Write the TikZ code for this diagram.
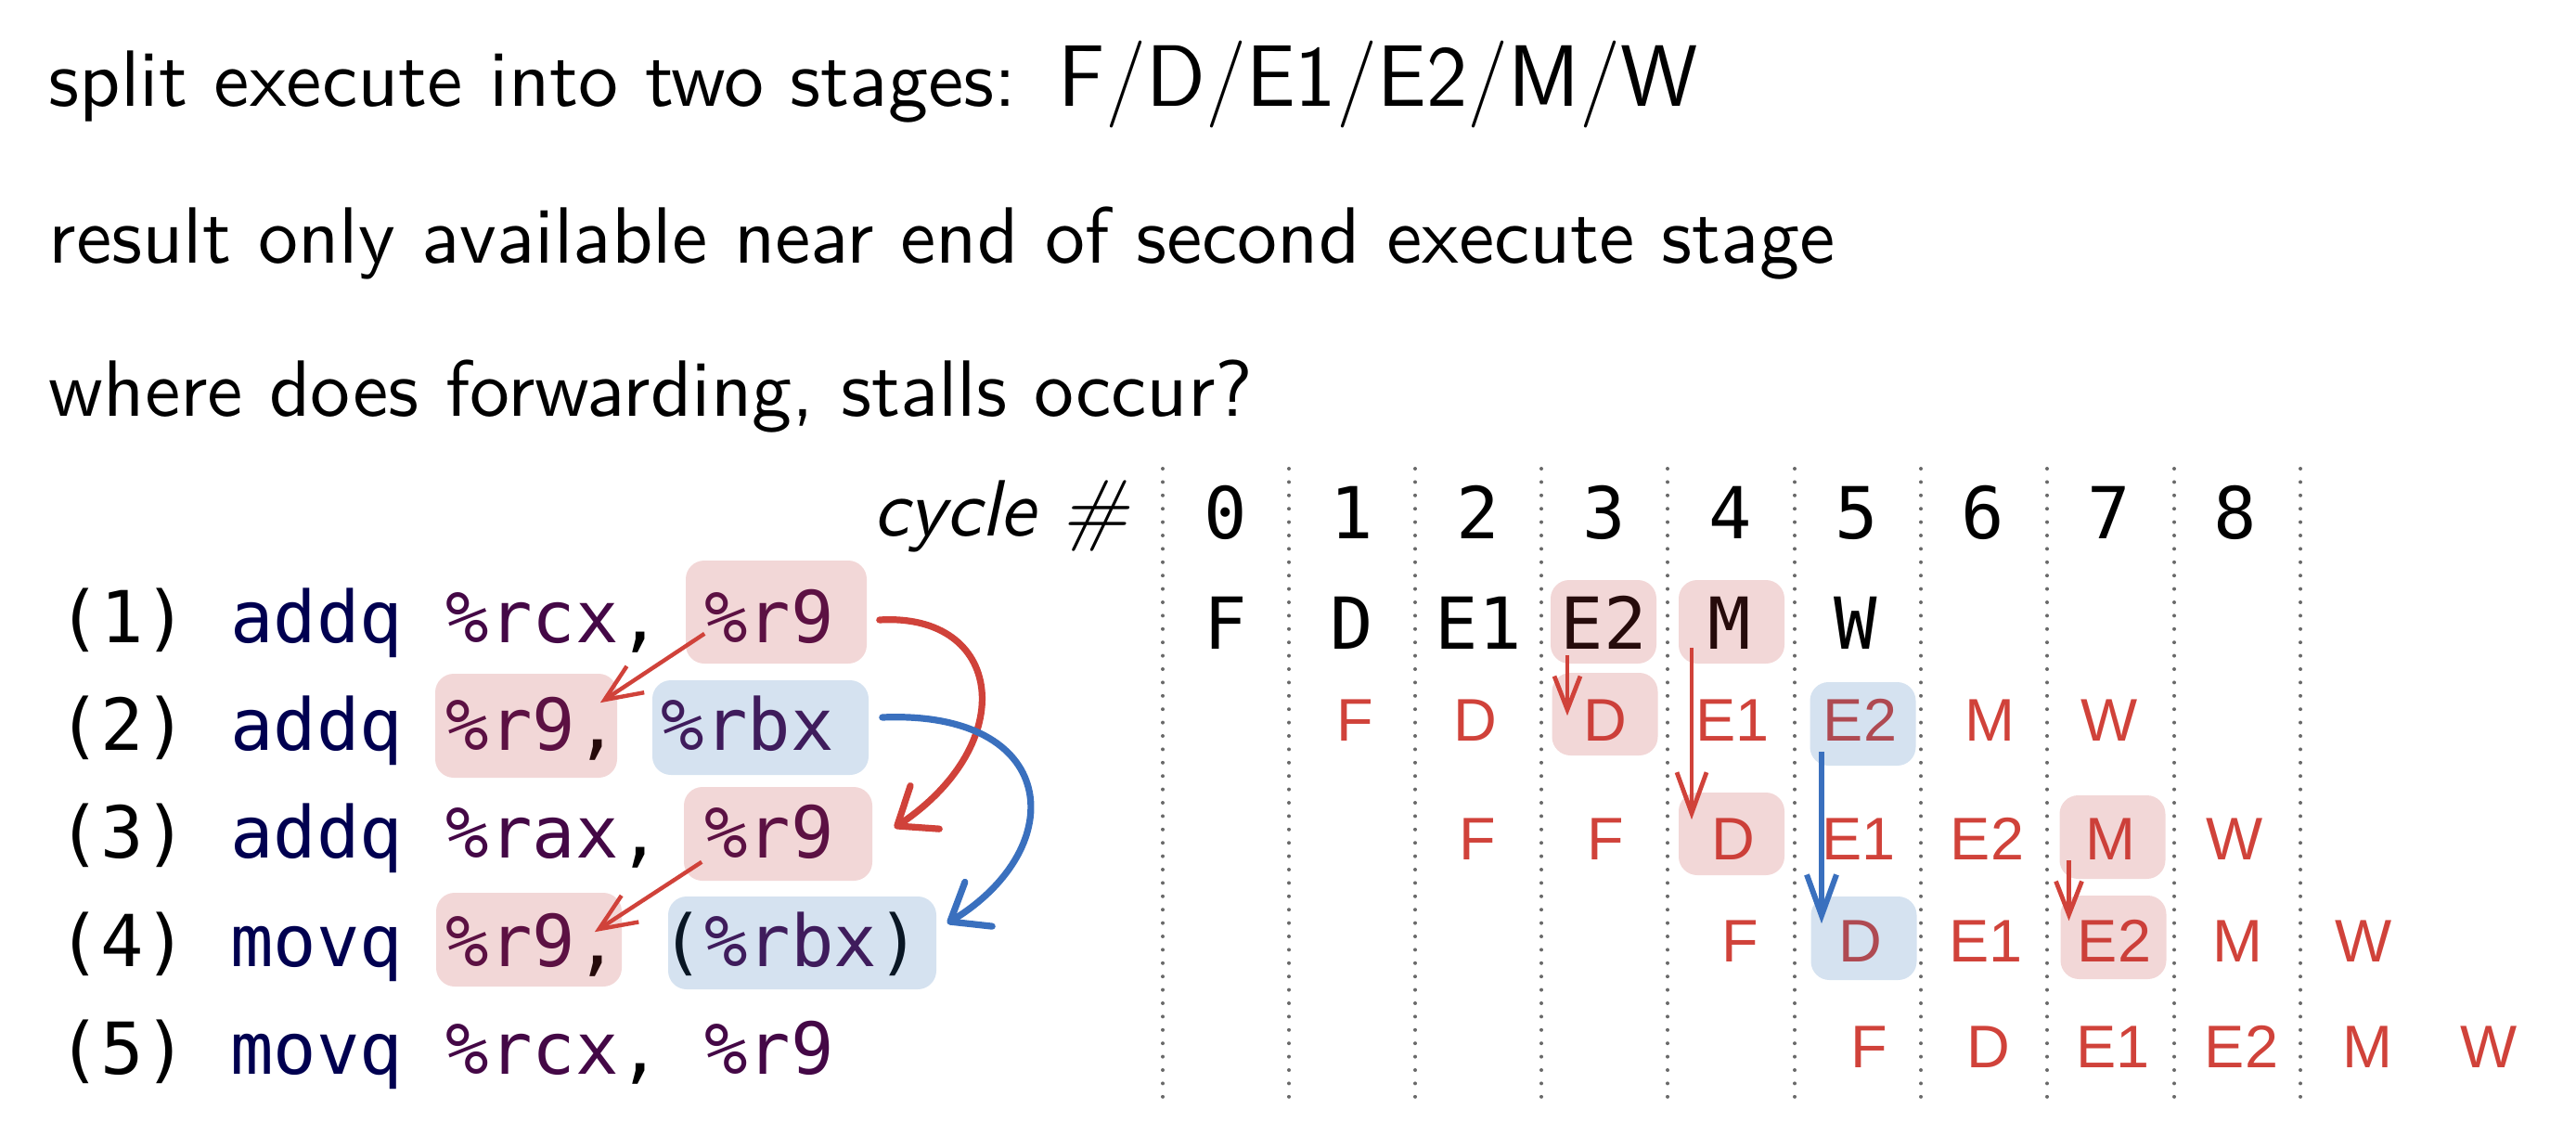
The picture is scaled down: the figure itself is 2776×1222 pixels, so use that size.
\documentclass[tikz,border=0pt]{standalone}
\usepackage{fontspec}
\usepackage{graphicx}
\usetikzlibrary{arrows.meta}

\newfontfamily\codefont{DejaVu Sans Mono}
\newfontfamily\stagefont{Liberation Sans}

\definecolor{stagered}{RGB}{208,66,58}
\definecolor{fwdblue}{RGB}{58,112,190}
\definecolor{hlred}{RGB}{190,55,55}
\definecolor{hlblue}{RGB}{45,110,180}
\definecolor{opcode}{RGB}{0,0,80}
\definecolor{regname}{RGB}{68,8,70}
\definecolor{gridgray}{RGB}{105,105,105}

% one monospace cell of blank space
\newcommand\sk{\hphantom{0}}
% slide text: Latin Modern Sans 10 scaled up
\newcommand\slidetext[1]{\scalebox{2.15}{\fontsize{10}{12}\selectfont\sffamily #1}}
\newcommand\reg[1]{\textcolor{regname}{#1}}
\newcommand\op[1]{\textcolor{opcode}{#1}}

\tikzset{
  line/.style={anchor=base west, inner sep=0pt},
  codeline/.style={anchor=base west, inner sep=0pt, font=\fontsize{19.3}{23}\codefont},
  monocell/.style={anchor=base, inner sep=0pt, font=\fontsize{19.3}{23}\codefont},
  stagecell/.style={anchor=base, inner sep=0pt, text=stagered, font=\fontsize{16.2}{19}\stagefont},
  hl/.style 2 args={rounded corners=5pt, inner sep=0pt, draw=none, fill opacity=0.2,
    minimum width=#1*0.25pt, minimum height=#2*0.25pt},
  hlr/.style 2 args={hl={#1}{#2}, fill=hlred},
  hlb/.style 2 args={hl={#1}{#2}, fill=hlblue},
  griddots/.style={gridgray, line width=1pt, line cap=round, dash pattern=on 0pt off 3.6pt},
  fwdcurve/.style={line width=1.8pt, line cap=round,
    -{Straight Barb[length=9pt, width=14pt, line cap=round, line join=round]}},
  fwdline/.style={stagered, line width=1.1pt,
    -{Straight Barb[length=10pt, width=8.5pt]}},
  stallarrow/.style={line width=1.2pt, -{Straight Barb[length=9pt, width=7pt]}},
  longarrow/.style={line width=1.2pt, -{Straight Barb[length=11pt, width=8pt]}},
}

\begin{document}
\begin{tikzpicture}[x=0.25pt, y=-0.25pt]
\path[use as bounding box] (0,0) rectangle (2776,1222);

% ---- headline text ----
\node[line] (t1) at (52,114) {\slidetext{split execute into two stages:}};
\node[line] (t1b) at (1140,114) {\fontsize{23.5}{28}\selectfont\sffamily F/D/E1/E2/M/W};
\node[line] (t2) at (52,283) {\slidetext{result only available near end of second execute stage}};
\node[line] (t3) at (52,448) {\slidetext{where does forwarding, stalls occur?}};

% ---- cycle grid ----
\node[anchor=base east, inner sep=0pt] (cyc) at (1217,577) {\slidetext{\itshape cycle \#}};
\foreach \x in {1253,1389,1525,1661,1797,1934,2070,2206,2343,2479}
  \draw[griddots] (\x,505) -- (\x,1183);
\foreach \i in {0,...,8}
  \node[monocell] (h\i) at ({1321+136*\i},580.6) {\i};

% ---- instruction listing ----
\node[codeline] (l1) at (61.5,692)    {(1)\sk\op{addq}\sk\reg{\%rcx},\sk\reg{\%r9}};
\node[codeline] (l2) at (61.5,808)    {(2)\sk\op{addq}\sk\reg{\%r9},\sk\reg{\%rbx}};
\node[codeline] (l3) at (61.5,924.5)  {(3)\sk\op{addq}\sk\reg{\%rax},\sk\reg{\%r9}};
\node[codeline] (l4) at (61.5,1041)   {(4)\sk\op{movq}\sk\reg{\%r9},\sk(\reg{\%rbx})};
\node[codeline] (l5) at (61.5,1157)   {(5)\sk\op{movq}\sk\reg{\%rcx},\sk\reg{\%r9}};

% ---- pipeline rows ----
\node[monocell] (a0) at (1321,699) {F};
\node[monocell] (a1) at (1457,699) {D};
\node[monocell] (a2) at (1593,699) {E1};
\node[monocell] (a3) at (1728,699) {E2};
\node[monocell] (a4) at (1864,699) {M};
\node[monocell] (a5) at (2000,699) {W};

\node[stagecell] (b1) at (1460,798) {F};
\node[stagecell] (b2) at (1590,798) {D};
\node[stagecell] (b3) at (1729.5,798) {D};
\node[stagecell] (b4) at (1867,798) {E1};
\node[stagecell] (b5) at (2004.5,798) {E2};
\node[stagecell] (b6) at (2144,798) {M};
\node[stagecell] (b7) at (2273,798) {W};

\node[stagecell] (c2) at (1592.5,926) {F};
\node[stagecell] (c3) at (1730,926) {F};
\node[stagecell] (c4) at (1868,926) {D};
\node[stagecell] (c5) at (2003,926) {E1};
\node[stagecell] (c6) at (2141.5,926) {E2};
\node[stagecell] (c7) at (2274.5,926) {M};
\node[stagecell] (c8) at (2408.5,926) {W};

\node[stagecell] (d4) at (1875.5,1036.4) {F};
\node[stagecell] (d5) at (2005,1036.4) {D};
\node[stagecell] (d6) at (2140,1036.4) {E1};
\node[stagecell] (d7) at (2278.5,1036.4) {E2};
\node[stagecell] (d8) at (2411.5,1036.4) {M};
\node[stagecell] (d9) at (2547,1036.4) {W};

\node[stagecell] (e5) at (2014,1150.6) {F};
\node[stagecell] (e6) at (2143,1150.6) {D};
\node[stagecell] (e7) at (2277,1150.6) {E1};
\node[stagecell] (e8) at (2415.5,1150.6) {E2};
\node[stagecell] (e9) at (2551.5,1150.6) {M};
\node[stagecell] (e10) at (2682,1150.6) {W};

% ---- highlight boxes ----
\node[hlr={195}{111}] (c1r9)  at (836.5,659.5) {};
\node[hlr={196}{112}] (c2r9)  at (567,782) {};
\node[hlb={233}{102}] (c2rbx) at (819.5,784) {};
\node[hlr={203}{101}] (c3r9)  at (838.5,898.5) {};
\node[hlr={200}{101}] (c4r9)  at (570,1012.5) {};
\node[hlb={289}{100}] (c4rbx) at (864.5,1016) {};

\node[hlr={114}{90}] (r1E2) at (1728,670) {};
\node[hlr={114}{90}] (r1M)  at (1866,670) {};
\node[hlr={114}{89}] (r2D)  at (1729.5,769.5) {};
\node[hlb={114}{90}] (r2E2) at (2007.5,780) {};
\node[hlr={114}{89}] (r3D)  at (1866,898.5) {};
\node[hlr={114}{90}] (r3M)  at (2276.5,902) {};
\node[hlb={114}{90}] (r4D)  at (2008.5,1011) {};
\node[hlr={114}{90}] (r4E2) at (2277.5,1010) {};

% ---- forwarding in the listing ----
\draw[fwdline] ([shift={(21,-33)}]c1r9.south west) -- ([shift={(-19,32)}]c2r9.north east);
\draw[fwdline] ([shift={(20,-21)}]c3r9.south west) -- ([shift={(-30,43)}]c4r9.north east);
\draw[fwdcurve, stagered] ([shift={(13,8.5)}]c1r9.east)
  .. controls +(133,-8) and +(137,-92) .. ([shift={(23,-6.5)}]c3r9.east);
\draw[fwdcurve, fwdblue] ([shift={(14,-11)}]c2rbx.east)
  .. controls +(190,-8) and +(135,-83) .. ([shift={(11,-21)}]c4rbx.east);

% ---- forwarding / stalls in the pipeline ----
\draw[stallarrow, stagered] ([shift={(-39,-10)}]r1E2.south) -- ([shift={(-40.5,47)}]r2D.north);
\draw[longarrow, stagered] ([shift={(-43,-18)}]r1M.south) -- ([shift={(-43,30)}]r3D.north);
\draw[longarrow, fwdblue, line width=1.5pt] ([shift={(-44.5,-16)}]r2E2.south) -- ([shift={(-45.5,30)}]r4D.north);
\draw[stallarrow, stagered] ([shift={(-47,-21)}]r3M.south) -- ([shift={(-48,28)}]r4E2.north);
\end{tikzpicture}
\end{document}
